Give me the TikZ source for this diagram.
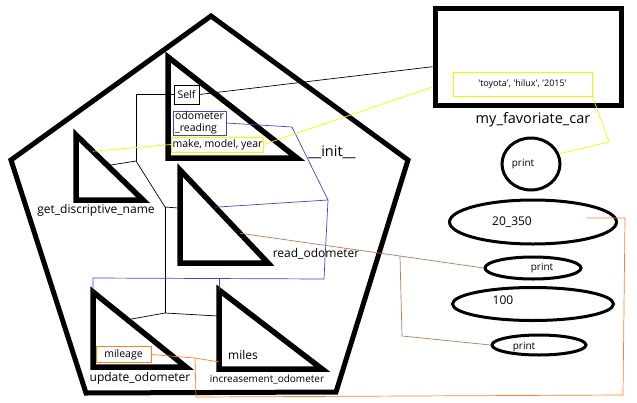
\documentclass[tikz,border=0pt]{standalone}
\usepackage{fontspec}
\setsansfont{Open Sans}[Ligatures=TeXOff]
\usetikzlibrary{shapes.geometric,calc}

\definecolor{paintyellow}{RGB}{255,242,0}
\definecolor{paintblue}{RGB}{63,72,204}
\definecolor{paintbrown}{RGB}{185,122,87}
\definecolor{paintorange}{RGB}{255,127,39}

\begin{document}
\begin{tikzpicture}[
  x=1pt, y=-1pt,
  font=\sffamily\fontsize{12}{13}\selectfont,
  frame/.style={line width=5pt, line join=miter},
  tri/.style={line width=5.5pt, line join=miter},
  tag/.style={draw, inner sep=1.5pt, line width=.7pt, align=left, font=\sffamily\fontsize{10.5}{11.5}\selectfont},
  oval/.style={draw, ellipse, line width=3pt, inner sep=0pt},
  link/.style={line width=.7pt},
  big/.style={font=\sffamily\fontsize{14.5}{15}\selectfont},
  small/.style={font=\sffamily\fontsize{10}{11}\selectfont}
]
\useasboundingbox (0,0) rectangle (637,402);

% the class
\draw[frame] (211,16) -- (408,160) -- (336,392) -- (86,393) -- (11,160) -- cycle;

% methods
\draw[tri] (168,57) coordinate (init-top) -- (168,158) coordinate (init-corner) -- (297,158) coordinate (init-end) -- cycle;
\draw[tri] (76,135) coordinate (desc-top) -- (76,200) coordinate (desc-corner) -- (143,200) coordinate (desc-end) -- cycle;
\draw[tri] (180,170) coordinate (read-top) -- (180,263) coordinate (read-corner) -- (268,263) coordinate (read-end) -- cycle;
\draw[tri] (93,292) coordinate (upd-top) -- (93,367) coordinate (upd-corner) -- (186,367) coordinate (upd-end) -- cycle;
\draw[tri] (219,290) coordinate (inc-top) -- (219,369) coordinate (inc-corner) -- (322,369) coordinate (inc-end) -- cycle;

\node[big] (init-name) at (332,152) {\_\_init\_\_};
\node (desc-name) at (96,210) {get\_discriptive\_name};
\node (read-name) at (316,254) {read\_odometer};
\node (upd-name) at (140,378) {update\_odometer};
\node[small] (inc-name) at (267,379) {increasement\_odometer};

\node[tag, minimum width=25pt, minimum height=19pt] (self) at (186.5,94.5) {Self};
\node[tag, draw=paintblue, inner sep=.5pt, minimum width=53pt, minimum height=24pt] (odo) at (199.5,123) {odometer\\\_reading};
\node[tag, draw=paintyellow, inner sep=1pt, minimum width=91pt, minimum height=15pt] (mmy) at (217.5,144.5) {make, model, year};
\node[tag, draw=paintorange, minimum width=55pt, minimum height=16pt] (mileage) at (123.5,354.5) {mileage};
\node (miles) at (243,355) {miles};

% the instance
\node[draw, line width=5pt, minimum width=186pt, minimum height=97pt] (car) at (528,56.5) {};
\node[tag, draw=paintyellow, inner sep=1pt, minimum width=139pt, minimum height=24pt, font=\sffamily\fontsize{9}{10}\selectfont] (toy) at (522.5,84) {'toyota', 'hilux', '2015'};
\node[big] (car-name) at (533,120) {my\_favoriate\_car};

\node[oval, minimum width=58pt, minimum height=52pt, label={[small, xshift=-8pt]center:print}] (print1) at (531,164) {};
\node[oval, minimum width=167pt, minimum height=44pt, label={[xshift=-21pt]center:20\_350}] (val1) at (533,222) {};
\node[oval, minimum width=96pt, minimum height=22pt, label={[small, xshift=9pt]center:print}] (print2) at (533,268) {};
\node[oval, minimum width=161pt, minimum height=33pt, label={[xshift=-30pt, yshift=4pt]center:100}] (val2) at (533,304) {};
\node[oval, minimum width=94pt, minimum height=20pt, label={[small, xshift=-15pt, yshift=-2pt]center:print}] (print3) at (539,345) {};

% bend points
\coordinate (j1) at (136,161);
\coordinate (j2) at (165,207);
\coordinate (j3) at (165,313);
\coordinate (b1) at (292,127);
\coordinate (b2) at (328,200);
\coordinate (b3) at (324,279);
\coordinate (b4) at (93,278);
\coordinate (y1) at (609,142);
\coordinate (r1) at (400,256);
\coordinate (r2) at (402,336);
\coordinate (o1) at (195,358);
\coordinate (o2) at (196,397);
\coordinate (o3) at (623,395);
\coordinate (o4) at (625,218);
\coordinate (o5) at (586,218);

% self
\draw[link] (self.east) -- ($(car.north west)!.6!(car.south west)$);
\draw[link] (self.west) -| (j1);
\draw[link] (j1) -- ($(desc-top)!.47!(desc-end)$);
\draw[link] (j1) -- (j2) -- ($(read-top)!.41!(read-corner)$);
\draw[link] (j2) -- (j3);
\draw[link] (j3) -- ($(upd-top)!.37!(upd-end)$);
\draw[link] (j3) -- ($(inc-top)!.33!(inc-corner)$);

% odometer_reading
\draw[link, paintblue] (odo.east) -- (b1) -- (b2) -- (b3) -- (b4) -- (upd-top);
\draw[link, paintblue] (b2) -- ($(read-top)!.4!(read-end)$);
\draw[link, paintblue] (inc-top) -- (inc-top |- b4);

% make, model, year
\draw[link, paintyellow] ($(desc-top)!.25!(desc-end)$) -- (mmy.west);
\draw[link, paintyellow] (mmy.east) -- ($(car.north west)!.8!(car.south west)$);
\draw[link, paintyellow] (toy.south east) -- (y1) -- (print1.20);

% read_odometer
\draw[link, paintbrown] ($(read-top)!.68!(read-end)$) -- (r1) -- (print2.west);
\draw[link, paintbrown] (r1) -- (r2) -- (print3.west);

% mileage
\draw[link, paintorange] (mileage.east) -- (o1) -- ($(inc-top)!.91!(inc-corner)$);
\draw[link, paintorange] (o1) -- (o2) -- (o3) -- (o4) -- (o5);
\end{tikzpicture}
\end{document}
